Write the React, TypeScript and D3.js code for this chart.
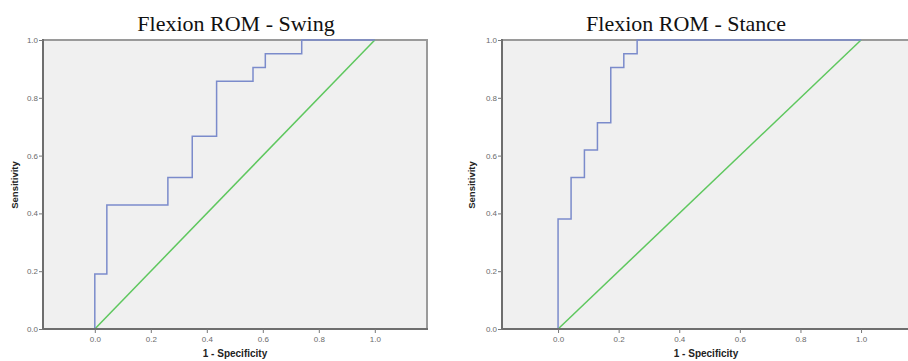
import * as d3 from 'd3';
import React, { useEffect, useRef } from 'react';

// ROC vertices (1 - specificity, sensitivity)
const swingFpr = [0, 0, 0.043, 0.261, 0.348, 0.435, 0.565, 0.609, 0.739, 1];
const swingTpr = [0, 0.190, 0.429, 0.524, 0.667, 0.857, 0.905, 0.952, 1, 1];
const stanceFpr = [0, 0, 0.043, 0.087, 0.130, 0.174, 0.217, 0.261, 1];
const stanceTpr = [0, 0.381, 0.524, 0.619, 0.714, 0.905, 0.952, 1, 1];
const refLine = [0, 1];
const tickValues = [0, 0.2, 0.4, 0.6, 0.8, 1.0];

const panels = [
    { title: 'Flexion ROM - Swing', fpr: swingFpr, tpr: swingTpr, left: 43, right: 427, unit: 280, titleX: 236, yLabelX: 15, xLabelX: 235 },
    { title: 'Flexion ROM - Stance', fpr: stanceFpr, tpr: stanceTpr, left: 502, right: 917, unit: 303, titleX: 686, yLabelX: 472, xLabelX: 706 },
];

const App = () => {
    const d3Container = useRef(null);
    const width = 908, height = 361;
    const top = 40, bottom = 329;

    useEffect(() => {
        const svg = d3.select(d3Container.current);
        svg.selectAll('*').remove();

        panels.forEach((p) => {
            // 0 tick sits 0.185 units right of the y axis in both panels
            const x0 = p.left + 0.185 * p.unit;
            const x = d3.scaleLinear().domain([0, 1]).range([x0, x0 + p.unit]);
            const y = d3.scaleLinear().domain([0, 1]).range([bottom, top]);
            const g = svg.append('g');

            // plot background + frame
            g.append('rect')
                .attr('x', p.left).attr('y', top)
                .attr('width', p.right - p.left).attr('height', bottom - top)
                .attr('fill', '#f0f0f0')
                .attr('stroke', '#9a9a9a').attr('stroke-width', 2);

            // reference diagonal
            g.append('line')
                .attr('x1', x(refLine[0])).attr('y1', y(refLine[0]))
                .attr('x2', x(refLine[1])).attr('y2', y(refLine[1]))
                .attr('stroke', '#5ec75e').attr('stroke-width', 1.5);

            // ROC curve
            const line = d3.line()
                .x((d) => x(d[0]))
                .y((d) => y(d[1]))
                .curve(d3.curveStepAfter);
            g.append('path')
                .attr('d', line(p.fpr.map((v, i) => [v, p.tpr[i]])))
                .attr('fill', 'none')
                .attr('stroke', '#7b8bcb').attr('stroke-width', 1.5);

            // axes lines
            g.append('line')
                .attr('x1', p.left).attr('x2', p.left).attr('y1', top - 1).attr('y2', bottom + 1)
                .attr('stroke', '#6e6e6e').attr('stroke-width', 2);
            g.append('line')
                .attr('x1', p.left - 1).attr('x2', p.right + 1).attr('y1', bottom).attr('y2', bottom)
                .attr('stroke', '#6e6e6e').attr('stroke-width', 2);

            const xAxis = g.append('g')
                .attr('transform', `translate(0,${bottom})`)
                .call(d3.axisBottom(x).tickValues(tickValues).tickFormat(d3.format('.1f')).tickSize(4).tickPadding(3));
            const yAxis = g.append('g')
                .attr('transform', `translate(${p.left},0)`)
                .call(d3.axisLeft(y).tickValues(tickValues).tickFormat(d3.format('.1f')).tickSize(4).tickPadding(1));
            [xAxis, yAxis].forEach((a) => {
                a.select('.domain').remove();
                a.selectAll('line').attr('stroke', '#777');
                a.selectAll('text')
                    .attr('fill', '#6a6a6a')
                    .style('font-family', 'Arial, "Liberation Sans", sans-serif')
                    .style('font-size', '8px');
            });

            // titles
            g.append('text')
                .attr('x', p.titleX).attr('y', 31)
                .attr('text-anchor', 'middle')
                .style('font-family', '"Times New Roman", "Liberation Serif", serif')
                .style('font-size', '22px')
                .attr('fill', '#111')
                .text(p.title);
            g.append('text')
                .attr('x', p.xLabelX).attr('y', 357)
                .attr('text-anchor', 'middle')
                .style('font-family', 'Arial, "Liberation Sans", sans-serif')
                .style('font-size', '10px').style('font-weight', 'bold')
                .attr('fill', '#222')
                .text('1 - Specificity');
            g.append('text')
                .attr('transform', `translate(${p.yLabelX + 3},185) rotate(-90)`)
                .attr('text-anchor', 'middle')
                .style('font-family', 'Arial, "Liberation Sans", sans-serif')
                .style('font-size', '9.5px').style('font-weight', 'bold')
                .attr('fill', '#222')
                .text('Sensitivity');
        });
    }, []);

    return (
        <div>
            <svg ref={d3Container} width={width} height={height}
                style={{ position: 'absolute', left: 0, top: 0, background: '#fff' }}>
            </svg>
        </div>
    );
};

export default App;
